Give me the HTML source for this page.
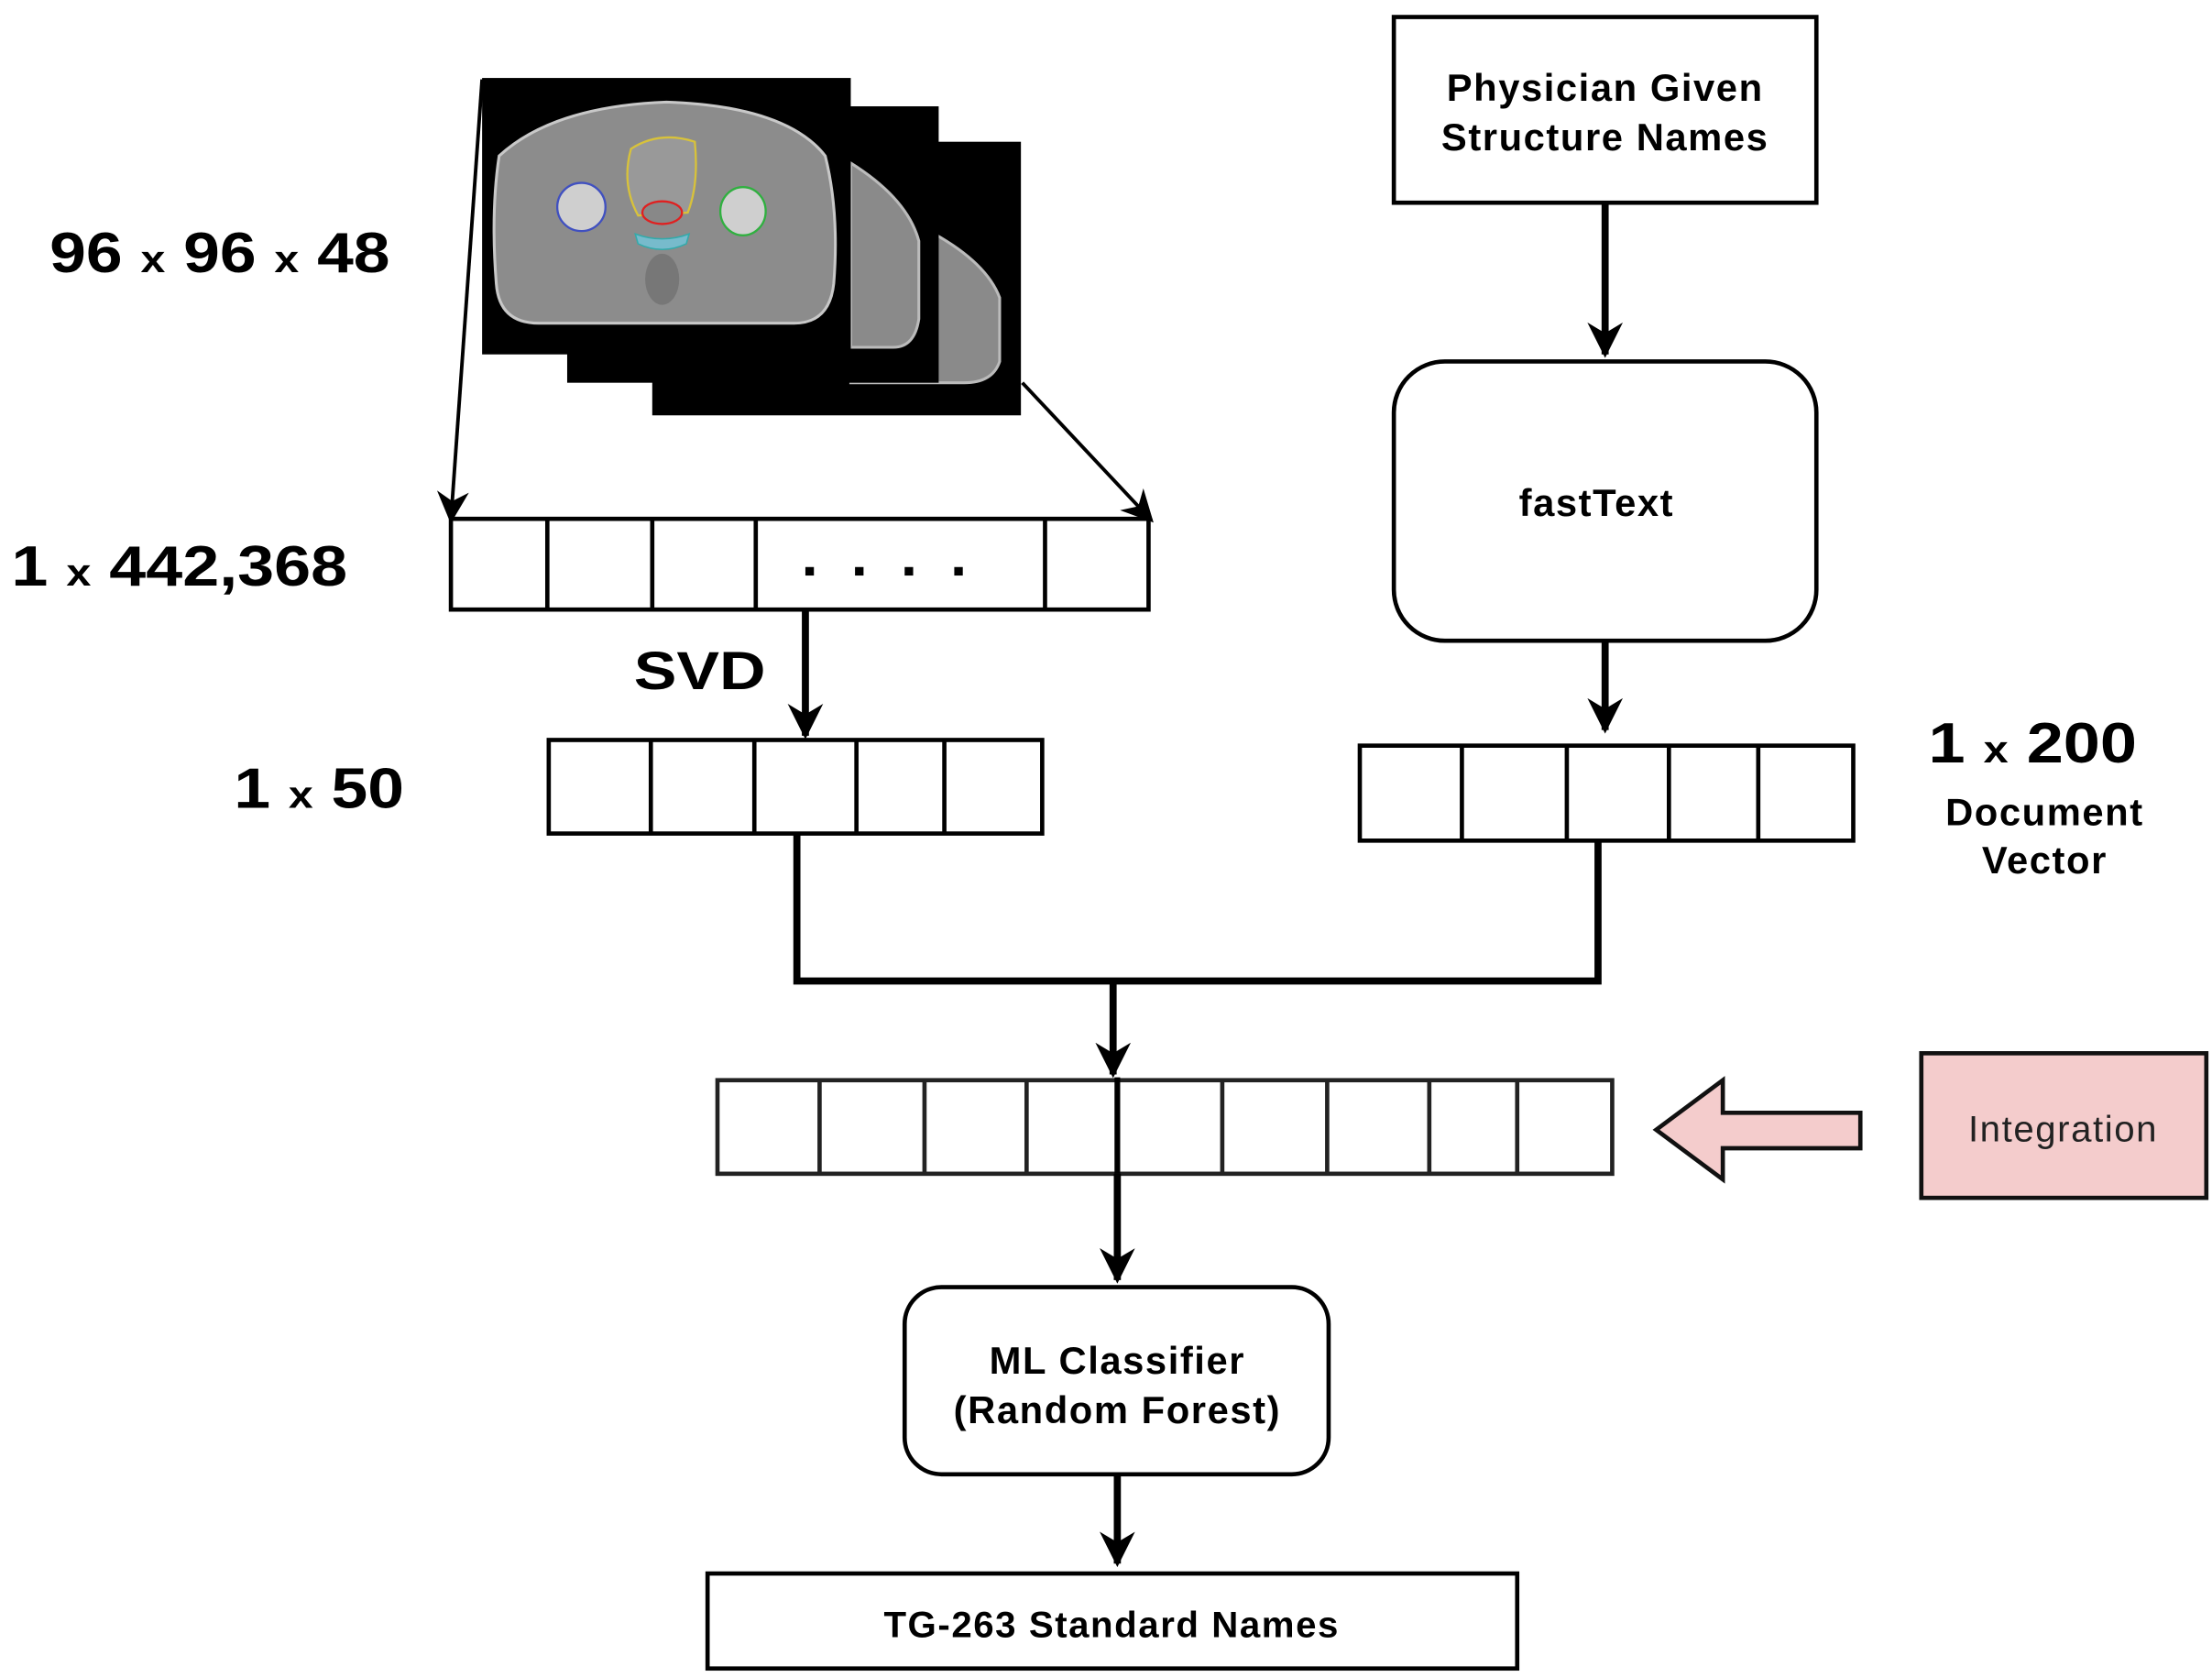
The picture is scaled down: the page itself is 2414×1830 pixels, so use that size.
<!DOCTYPE html>
<html><head><meta charset="utf-8"><style>html,body{margin:0;padding:0;background:#fff}svg{display:block}</style></head>
<body>
<svg width="2414" height="1830" viewBox="0 0 1560 1183" preserveAspectRatio="none" xmlns="http://www.w3.org/2000/svg" font-family="Liberation Sans, Arial, sans-serif" font-weight="bold">
<defs>
<marker id="ah" viewBox="0 0 10 10" refX="9" refY="5" markerWidth="5" markerHeight="5" orient="auto" markerUnits="strokeWidth"><path d="M0,0 L10,5 L0,10 L3,5 z" fill="#000"/></marker>
<marker id="ah2" viewBox="0 0 10 10" refX="9" refY="5" markerWidth="9" markerHeight="9" orient="auto" markerUnits="strokeWidth"><path d="M0,0 L10,5 L0,10 L3,5 z" fill="#000"/></marker>
</defs>
<!-- CT stack -->
<rect x="460" y="100" width="260" height="193" fill="#000"/>
<path d="M600,140 Q690,170 705,210 L705,255 Q700,270 680,270 L600,270 z" fill="#8a8a8a" stroke="#bbb" stroke-width="2"/>
<rect x="400" y="75" width="262" height="195" fill="#000"/>
<path d="M600,115 Q640,140 648,170 L648,225 Q645,245 630,245 L600,245 z" fill="#8a8a8a" stroke="#bbb" stroke-width="2"/>
<rect x="340" y="55" width="260" height="195" fill="#000"/>
<path d="M352,110 Q390,75 470,72 Q555,75 582,110 Q592,150 588,200 Q585,228 560,228 L380,228 Q352,228 350,200 Q346,150 352,110 z" fill="#8c8c8c" stroke="#c8c8c8" stroke-width="2"/>
<path d="M445,105 Q465,92 490,100 Q493,130 485,150 L450,152 Q438,130 445,105z" fill="#999" stroke="#d8c23a" stroke-width="1.5"/>
<ellipse cx="410" cy="146" rx="17" ry="17" fill="#cfcfcf" stroke="#4050c0" stroke-width="1.5"/>
<ellipse cx="524" cy="149" rx="16" ry="17" fill="#cfcfcf" stroke="#30b040" stroke-width="1.5"/>
<ellipse cx="467" cy="150" rx="14" ry="8" fill="#888" stroke="#e02020" stroke-width="1.5"/>
<path d="M448,165 Q467,172 486,165 L484,172 Q467,180 450,172z" fill="#7bc" stroke="#3aa" stroke-width="1"/>
<ellipse cx="467" cy="197" rx="12" ry="18" fill="#777"/>
<!-- projection arrows -->
<line x1="340" y1="56" x2="318" y2="367" stroke="#000" stroke-width="2.5" marker-end="url(#ah2)"/>
<line x1="721" y1="270" x2="812" y2="367" stroke="#000" stroke-width="2.5" marker-end="url(#ah2)"/>
<!-- labels left -->
<text x="35" y="192" font-size="40" textLength="240" lengthAdjust="spacingAndGlyphs">96 <tspan font-size="27">x</tspan> 96 <tspan font-size="27">x</tspan> 48</text>
<text x="8" y="413" font-size="40" textLength="237" lengthAdjust="spacingAndGlyphs">1 <tspan font-size="27">x</tspan> 442,368</text>
<text x="447" y="486" font-size="38" textLength="93" lengthAdjust="spacingAndGlyphs">SVD</text>
<text x="165" y="570" font-size="40" textLength="120" lengthAdjust="spacingAndGlyphs">1 <tspan font-size="27">x</tspan> 50</text>
<!-- long vector -->
<g fill="#fff" stroke="#000" stroke-width="3">
<rect x="318" y="366" width="492" height="64"/>
<line x1="386" y1="366" x2="386" y2="430"/><line x1="460" y1="366" x2="460" y2="430"/><line x1="533" y1="366" x2="533" y2="430"/><line x1="737" y1="366" x2="737" y2="430"/>
</g>
<g fill="#000"><rect x="568" y="400" width="6" height="6"/><rect x="603" y="400" width="6" height="6"/><rect x="638" y="400" width="6" height="6"/><rect x="673" y="400" width="6" height="6"/></g>
<line x1="568" y1="430" x2="568" y2="519" stroke="#000" stroke-width="5" marker-end="url(#ah)"/>
<!-- 1x50 vector -->
<g fill="#fff" stroke="#000" stroke-width="3">
<rect x="387" y="522" width="348" height="66"/>
<line x1="459" y1="522" x2="459" y2="588"/><line x1="532" y1="522" x2="532" y2="588"/><line x1="604" y1="522" x2="604" y2="588"/><line x1="666" y1="522" x2="666" y2="588"/>
</g>
<!-- physician -->
<rect x="983" y="12" width="298" height="131" fill="#fff" stroke="#000" stroke-width="3"/>
<text x="1132" y="71" font-size="27" text-anchor="middle" letter-spacing="1">Physician Given</text>
<text x="1132" y="106" font-size="27" text-anchor="middle" letter-spacing="1">Structure Names</text>
<line x1="1132" y1="143" x2="1132" y2="250" stroke="#000" stroke-width="5" marker-end="url(#ah)"/>
<rect x="983" y="255" width="298" height="197" rx="36" fill="#fff" stroke="#000" stroke-width="3"/>
<text x="1126" y="364" font-size="27" text-anchor="middle" letter-spacing="1">fastText</text>
<line x1="1132" y1="452" x2="1132" y2="515" stroke="#000" stroke-width="5" marker-end="url(#ah)"/>
<g fill="#fff" stroke="#000" stroke-width="3">
<rect x="959" y="526" width="348" height="67"/>
<line x1="1031" y1="526" x2="1031" y2="593"/><line x1="1105" y1="526" x2="1105" y2="593"/><line x1="1177" y1="526" x2="1177" y2="593"/><line x1="1240" y1="526" x2="1240" y2="593"/>
</g>
<text x="1360" y="538" font-size="40" textLength="147" lengthAdjust="spacingAndGlyphs">1 <tspan font-size="27">x</tspan> 200</text>
<text x="1442" y="582" font-size="27" text-anchor="middle" letter-spacing="1">Document</text>
<text x="1442" y="616" font-size="27" text-anchor="middle" letter-spacing="1">Vector</text>
<!-- merge -->
<polyline points="562,588 562,692 1127,692 1127,593" fill="none" stroke="#000" stroke-width="5"/>
<line x1="785" y1="692" x2="785" y2="758" stroke="#000" stroke-width="5" marker-end="url(#ah)"/>
<!-- integration vector -->
<g fill="#fff" stroke="#222" stroke-width="3">
<rect x="506" y="762" width="631" height="66"/>
<line x1="578" y1="762" x2="578" y2="828"/><line x1="652" y1="762" x2="652" y2="828"/><line x1="724" y1="762" x2="724" y2="828"/><line x1="862" y1="762" x2="862" y2="828"/><line x1="936" y1="762" x2="936" y2="828"/><line x1="1008" y1="762" x2="1008" y2="828"/><line x1="1070" y1="762" x2="1070" y2="828"/>
</g>
<line x1="788" y1="760" x2="788" y2="828" stroke="#000" stroke-width="4"/>
<line x1="788" y1="828" x2="788" y2="903" stroke="#000" stroke-width="5" marker-end="url(#ah)"/>
<!-- pink arrow -->
<path d="M1168,797 L1215,762 L1215,785 L1312,785 L1312,810 L1215,810 L1215,832 z" fill="#f4cccc" stroke="#111" stroke-width="3"/>
<rect x="1355" y="743" width="201" height="102" fill="#f4cccc" stroke="#111" stroke-width="3"/>
<text x="1455" y="805" font-size="26" font-weight="normal" text-anchor="middle" fill="#222" letter-spacing="1">Integration</text>
<!-- ML -->
<rect x="638" y="908" width="299" height="132" rx="26" fill="#fff" stroke="#000" stroke-width="3"/>
<text x="788" y="969" font-size="27" text-anchor="middle" letter-spacing="1">ML Classifier</text>
<text x="788" y="1004" font-size="27" text-anchor="middle" letter-spacing="1">(Random Forest)</text>
<line x1="788" y1="1040" x2="788" y2="1103" stroke="#000" stroke-width="5" marker-end="url(#ah)"/>
<rect x="499" y="1110" width="571" height="67" fill="#fff" stroke="#000" stroke-width="3"/>
<text x="784" y="1155" font-size="26" text-anchor="middle" letter-spacing="1">TG-263 Standard Names</text>
</svg>
</body></html>
